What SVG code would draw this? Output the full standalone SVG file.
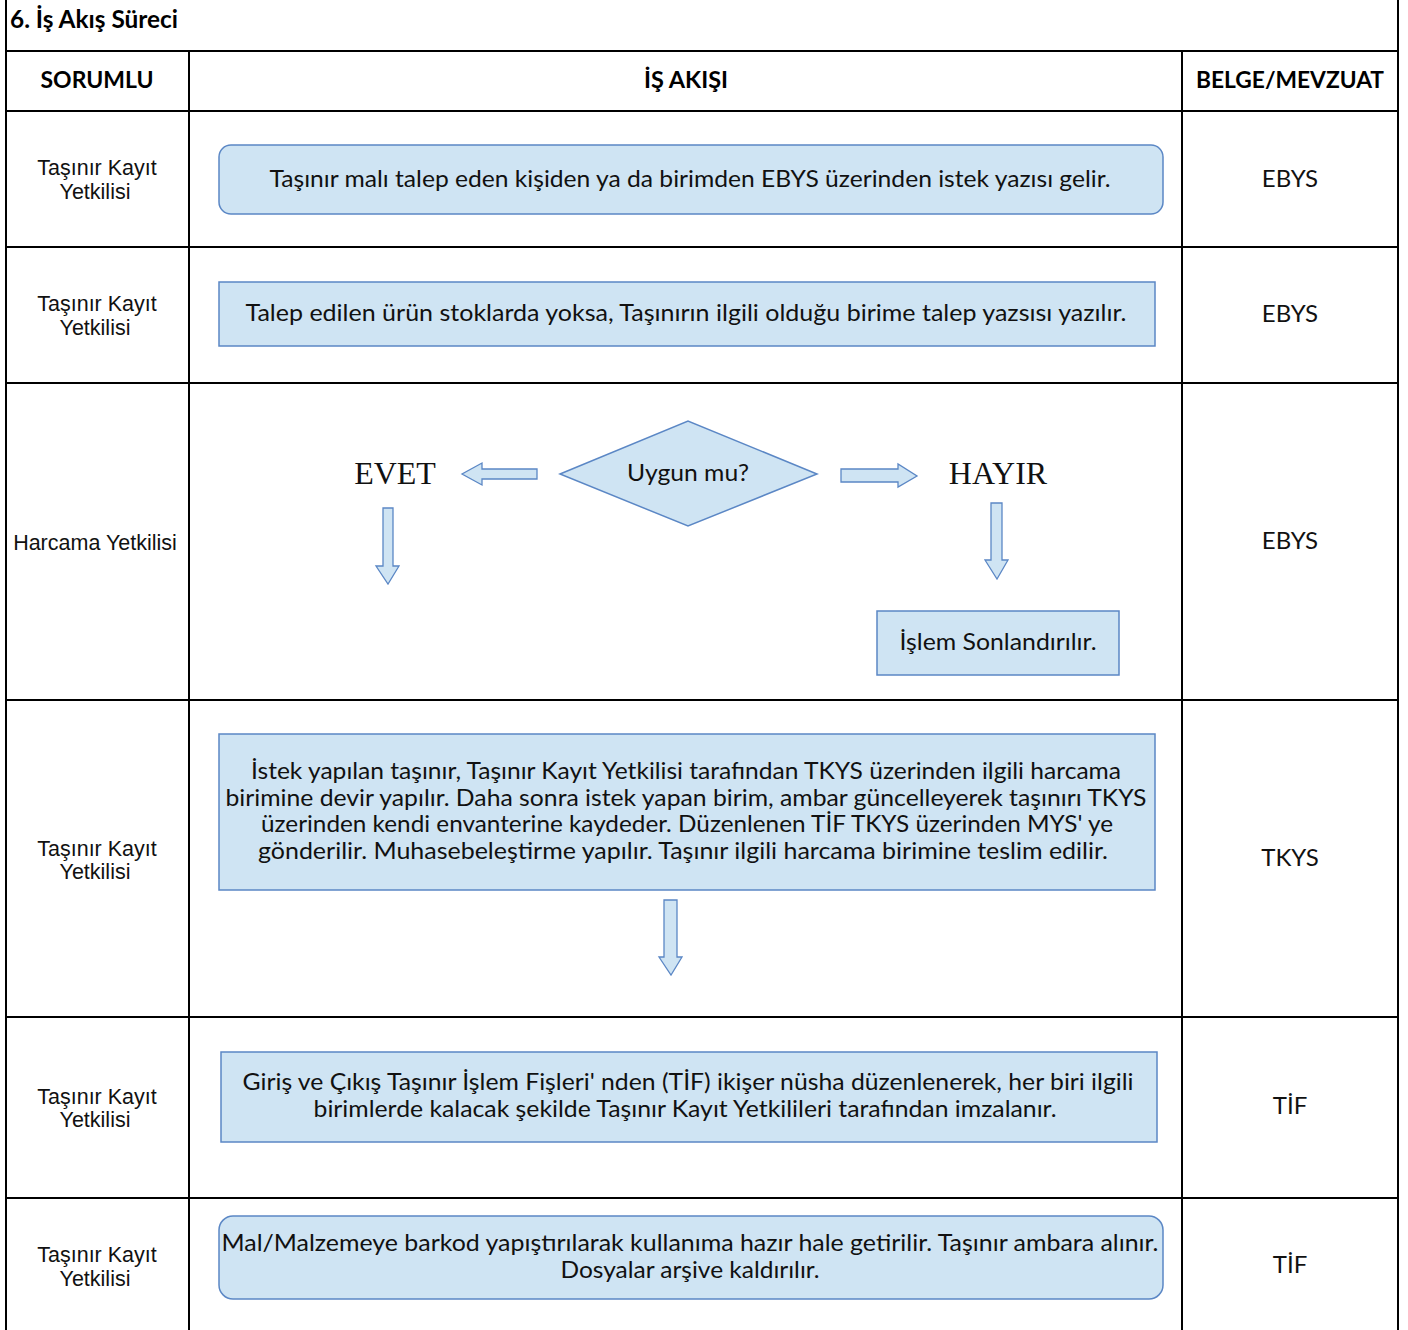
<svg xmlns="http://www.w3.org/2000/svg" width="1408" height="1330" viewBox="0 0 1408 1330">
<style>
.grid{stroke:#000;stroke-width:2;fill:none}
.box{fill:#cfe4f3;stroke:#5b87c5;stroke-width:1.5}
.arr{fill:#cfe4f3;stroke:#5b87c5;stroke-width:1.3}
.t{font-family:Lato,"Open Sans",sans-serif;font-size:24px;fill:#111;text-anchor:middle}
.h{font-family:Lato,"Open Sans",sans-serif;font-size:23px;font-weight:bold;fill:#000;text-anchor:middle}
.l{font-family:"Liberation Sans",Arial,sans-serif;font-size:21.5px;fill:#111;text-anchor:middle}
.s{font-family:"Liberation Serif","Times New Roman",serif;font-size:32px;fill:#111;text-anchor:middle}
</style>
<rect width="1408" height="1330" fill="#fff"/>
<g id="table">
<line class="grid" x1="6" y1="0" x2="6" y2="1330"/>
<line class="grid" x1="1398" y1="0" x2="1398" y2="1330"/>
<line class="grid" x1="189" y1="51" x2="189" y2="1330"/>
<line class="grid" x1="1182" y1="51" x2="1182" y2="1330"/>
<line class="grid" x1="6" y1="51" x2="1398" y2="51"/>
<line class="grid" x1="6" y1="111" x2="1398" y2="111"/>
<line class="grid" x1="6" y1="247" x2="1398" y2="247"/>
<line class="grid" x1="6" y1="383" x2="1398" y2="383"/>
<line class="grid" x1="6" y1="700" x2="1398" y2="700"/>
<line class="grid" x1="6" y1="1017" x2="1398" y2="1017"/>
<line class="grid" x1="6" y1="1198" x2="1398" y2="1198"/>
<text x="10" y="28" font-family="Lato,'Open Sans',sans-serif" font-size="24" font-weight="bold" textLength="168" lengthAdjust="spacingAndGlyphs">6. İş Akış Süreci</text>
<text class="h" x="97" y="88" textLength="113" lengthAdjust="spacingAndGlyphs">SORUMLU</text>
<text class="h" x="686" y="88" textLength="84" lengthAdjust="spacingAndGlyphs">İŞ AKIŞI</text>
<text class="h" x="1290" y="88" textLength="188" lengthAdjust="spacingAndGlyphs">BELGE/MEVZUAT</text>
</g>
<g id="responsible">
<text class="l" x="97" y="175">Taşınır Kayıt</text><text class="l" x="95" y="199">Yetkilisi</text>
<text class="l" x="97" y="311">Taşınır Kayıt</text><text class="l" x="95" y="335">Yetkilisi</text>
<text class="l" x="95" y="550">Harcama Yetkilisi</text>
<text class="l" x="97" y="856">Taşınır Kayıt</text><text class="l" x="95" y="879">Yetkilisi</text>
<text class="l" x="97" y="1104">Taşınır Kayıt</text><text class="l" x="95" y="1127">Yetkilisi</text>
<text class="l" x="97" y="1262">Taşınır Kayıt</text><text class="l" x="95" y="1286">Yetkilisi</text>
</g>
<g id="documents">
<text class="t" x="1290" y="187">EBYS</text>
<text class="t" x="1290" y="322">EBYS</text>
<text class="t" x="1290" y="549">EBYS</text>
<text class="t" x="1290" y="866">TKYS</text>
<text class="t" x="1290" y="1114">TİF</text>
<text class="t" x="1290" y="1273">TİF</text>
</g>
<g id="n1">
<rect class="box" x="219" y="145" width="944" height="69" rx="12"/>
<text class="t" x="690" y="187" textLength="841" lengthAdjust="spacingAndGlyphs">Taşınır malı talep eden kişiden ya da birimden EBYS üzerinden istek yazısı gelir.</text>
</g>
<g id="n2">
<rect class="box" x="219" y="282" width="936" height="64"/>
<text class="t" x="686" y="321" textLength="881" lengthAdjust="spacingAndGlyphs">Talep edilen ürün stoklarda yoksa, Taşınırın ilgili olduğu birime talep yazsısı yazılır.</text>
</g>
<g id="n3">
<polygon class="box" points="560,474 688,421 817,474 688,526"/>
<text class="t" x="688" y="481" textLength="122" lengthAdjust="spacingAndGlyphs">Uygun mu?</text>
</g>
<g id="evet"><text class="s" x="395" y="484">EVET</text></g>
<g id="hayir"><text class="s" x="998" y="484">HAYIR</text></g>
<g id="n4">
<rect class="box" x="877" y="611" width="242" height="64"/>
<text class="t" x="998" y="650" textLength="197" lengthAdjust="spacingAndGlyphs">İşlem Sonlandırılır.</text>
</g>
<g id="n5">
<rect class="box" x="219" y="734" width="936" height="156"/>
<text class="t" x="686" y="779" textLength="870" lengthAdjust="spacingAndGlyphs">İstek yapılan taşınır, Taşınır Kayıt Yetkilisi tarafından TKYS üzerinden ilgili harcama</text>
<text class="t" x="686" y="806" textLength="921" lengthAdjust="spacingAndGlyphs">birimine devir yapılır. Daha sonra istek yapan birim, ambar güncelleyerek taşınırı TKYS</text>
<text class="t" x="687" y="832" textLength="852" lengthAdjust="spacingAndGlyphs">üzerinden kendi envanterine kaydeder. Düzenlenen TİF TKYS üzerinden MYS' ye</text>
<text class="t" x="683" y="859" textLength="850" lengthAdjust="spacingAndGlyphs">gönderilir. Muhasebeleştirme yapılır. Taşınır ilgili harcama birimine teslim edilir.</text>
</g>
<g id="n6">
<rect class="box" x="221" y="1052" width="936" height="90"/>
<text class="t" x="688" y="1090" textLength="891" lengthAdjust="spacingAndGlyphs">Giriş ve Çıkış Taşınır İşlem Fişleri' nden (TİF) ikişer nüsha düzenlenerek, her biri ilgili</text>
<text class="t" x="685" y="1117" textLength="743" lengthAdjust="spacingAndGlyphs">birimlerde kalacak şekilde Taşınır Kayıt Yetkilileri tarafından imzalanır.</text>
</g>
<g id="n7">
<rect class="box" x="219" y="1216" width="944" height="83" rx="14"/>
<text class="t" x="690" y="1251" textLength="937" lengthAdjust="spacingAndGlyphs">Mal/Malzemeye barkod yapıştırılarak kullanıma hazır hale getirilir. Taşınır ambara alınır.</text>
<text class="t" x="690" y="1278" textLength="259" lengthAdjust="spacingAndGlyphs">Dosyalar arşive kaldırılır.</text>
</g>
<g id="connectors">
<polygon class="arr" points="537,469 482,469 482,463 462,474 482,485 482,479 537,479"/>
<polygon class="arr" points="383,508 393,508 393,566 399,566 388,584 376,566 383,566"/>
<polygon class="arr" points="841,469 898,469 898,464 917,476 898,487 898,482 841,482"/>
<polygon class="arr" points="991,503 1002,503 1002,560 1008,560 997,579 985,560 991,560"/>
<polygon class="arr" points="664,900 677,900 677,957 682,957 671,975 659,957 664,957"/>
</g>
</svg>
